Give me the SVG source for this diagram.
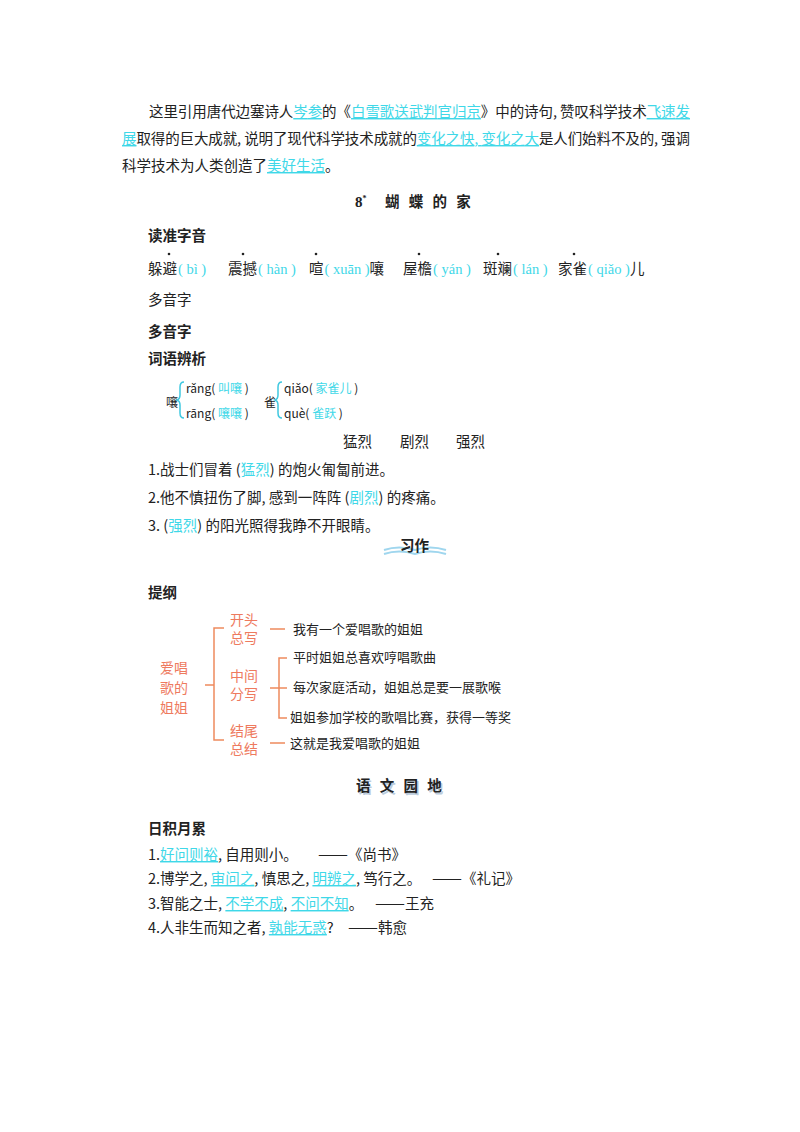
<svg xmlns="http://www.w3.org/2000/svg" width="800" height="1132" viewBox="0 0 800 1132">
<style>
text{font-family:"Noto Sans CJK SC","Liberation Sans",sans-serif;font-size:14.5px;fill:#222}
.c{fill:#3fd8e8}
.u{text-decoration:underline}
.b{font-weight:bold}
.py{font-family:"Liberation Serif",serif;fill:#3fd8e8}
.s{font-size:12px}
.o{fill:#ee7a5e;font-size:14px}
.k{font-size:13px;font-family:"Noto Sans CJK SC",sans-serif}
.ln{stroke:#ee8a5e;stroke-width:1.5;fill:none}
</style>
<rect width="800" height="1132" fill="#fff"/>
<g id="intro">
<text x="149" y="117" textLength="541" lengthAdjust="spacing">这里引用唐代边塞诗人<tspan class="c u">岑参</tspan>的《<tspan class="c u">白雪歌送武判官归京</tspan>》中的诗句, 赞叹科学技术<tspan class="c u">飞速发</tspan></text>
<text x="122" y="144" textLength="568" lengthAdjust="spacing"><tspan class="c u">展</tspan>取得的巨大成就, 说明了现代科学技术成就的<tspan class="c u">变化之快, 变化之大</tspan>是人们始料不及的, 强调</text>
<text x="122" y="171">科学技术为人类创造了<tspan class="c u">美好生活</tspan>。</text>
</g>
<g id="title"><text x="355" y="207" class="b" style="font-family:'Liberation Serif',serif;font-size:15px">8<tspan dy="-6" font-size="8">*</tspan></text><text x="385" y="207" class="b" font-size="15" letter-spacing="3">蝴 蝶 的 家</text></g>
<g id="pinyin">
<text x="148" y="241" class="b">读准字音</text>
<g fill="#222"><circle cx="169" cy="254" r="1.3"/><circle cx="243" cy="254" r="1.3"/><circle cx="316" cy="254" r="1.3"/><circle cx="419" cy="254" r="1.3"/><circle cx="498" cy="254" r="1.3"/><circle cx="574" cy="254" r="1.3"/></g>
<text x="148" y="274">躲避<tspan class="py" dx="1">( bì )</tspan></text>
<text x="228" y="274">震撼<tspan class="py" dx="1">( hàn )</tspan></text>
<text x="309" y="274">喧<tspan class="py" dx="1">( xuān )</tspan>嚷</text>
<text x="403" y="274">屋檐<tspan class="py" dx="1">( yán )</tspan></text>
<text x="483" y="274">斑斓<tspan class="py" dx="1">( lán )</tspan></text>
<text x="558" y="274">家雀<tspan class="py" dx="1">( qiǎo )</tspan>儿</text>
<text x="148" y="305">多音字</text>
<text x="148" y="337" class="b">多音字</text>
<text x="148" y="364" class="b">词语辨析</text>
</g>
<g id="poly">
<text x="166" y="407" class="s">嚷</text>
<path d="M184 382 q-4 0 -4 5 v8 q0 4 -3 5 q3 1 3 5 v8 q0 5 4 5" stroke="#3fc8e0" stroke-width="1.5" fill="none"/>
<text x="186" y="393" class="s">rǎng( <tspan class="c">叫嚷</tspan> )</text>
<text x="186" y="418" class="s">rāng( <tspan class="c">嚷嚷</tspan> )</text>
<text x="264" y="407" class="s">雀</text>
<path d="M282 382 q-4 0 -4 5 v8 q0 4 -3 5 q3 1 3 5 v8 q0 5 4 5" stroke="#3fc8e0" stroke-width="1.5" fill="none"/>
<text x="284" y="393" class="s">qiǎo( <tspan class="c">家雀儿</tspan> )</text>
<text x="284" y="418" class="s">què( <tspan class="c">雀跃</tspan> )</text>
</g>
<g id="words">
<text x="343" y="447">猛烈</text><text x="400" y="447">剧烈</text><text x="456" y="447">强烈</text>
<text x="148" y="475">1.战士们冒着 (<tspan class="c">猛烈</tspan>) 的炮火匍匐前进。</text>
<text x="148" y="503">2.他不慎扭伤了脚, 感到一阵阵 (<tspan class="c">剧烈</tspan>) 的疼痛。</text>
<text x="148" y="531">3. (<tspan class="c">强烈</tspan>) 的阳光照得我睁不开眼睛。</text>
</g>
<g id="xizuo">
<path d="M384 550 q15 -5 31 0 q15 -5 31 0 M384 554 q15 -5 31 0 q15 -5 31 0" stroke="#9fd6ee" stroke-width="2" fill="none"/>
<text x="400" y="551" class="b" font-size="15">习作</text>
</g>
<text x="148" y="598" class="b">提纲</text>
<g id="outline">
<text x="160" y="673" class="o">爱唱</text><text x="160" y="693" class="o">歌的</text><text x="160" y="713" class="o">姐姐</text>
<text x="230" y="625" class="o" font-size="13">开头</text><text x="230" y="643" class="o" font-size="13">总写</text>
<text x="230" y="681" class="o" font-size="13">中间</text><text x="230" y="699" class="o" font-size="13">分写</text>
<text x="230" y="736" class="o" font-size="13">结尾</text><text x="230" y="754" class="o" font-size="13">总结</text>
<text x="293" y="634" class="k">我有一个爱唱歌的姐姐</text>
<text x="293" y="662" class="k">平时姐姐总喜欢哼唱歌曲</text>
<text x="293" y="692" class="k">每次家庭活动，姐姐总是要一展歌喉</text>
<text x="290" y="722" class="k">姐姐参加学校的歌唱比赛，获得一等奖</text>
<text x="290" y="748" class="k">这就是我爱唱歌的姐姐</text>
</g>
<g id="connectors" class="ln">
<path class="ln" d="M224 628 h-10 v112 h10 M205 685 h9"/>
<path class="ln" d="M270 629 h15 M270 743 h15"/>
<path class="ln" d="M287 658 h-8 v60 h8 M270 688 h17"/>
</g>
<g id="yuwen"><text x="356" y="791" class="b" font-size="15" dx="1.5" dy="1.5" letter-spacing="3" style="fill:#bcd">语 文 园 地</text><text x="356" y="791" class="b" font-size="15" letter-spacing="3">语 文 园 地</text></g>
<g id="riji">
<text x="148" y="834" class="b">日积月累</text>
<text x="148" y="860">1.<tspan class="c u">好问则裕</tspan>, 自用则小。</text><text x="318" y="860"><tspan textLength="30" lengthAdjust="spacingAndGlyphs">——</tspan>《尚书》</text>
<text x="148" y="884">2.博学之, <tspan class="c u">审问之</tspan>, 慎思之, <tspan class="c u">明辨之</tspan>, 笃行之。</text><text x="432" y="884"><tspan textLength="30" lengthAdjust="spacingAndGlyphs">——</tspan>《礼记》</text>
<text x="148" y="909">3.智能之士, <tspan class="c u">不学不成</tspan>, <tspan class="c u">不问不知</tspan>。</text><text x="375" y="909"><tspan textLength="30" lengthAdjust="spacingAndGlyphs">——</tspan>王充</text>
<text x="148" y="933">4.人非生而知之者, <tspan class="c u">孰能无惑</tspan>?</text><text x="348" y="933"><tspan textLength="30" lengthAdjust="spacingAndGlyphs">——</tspan>韩愈</text>
</g>
</svg>
